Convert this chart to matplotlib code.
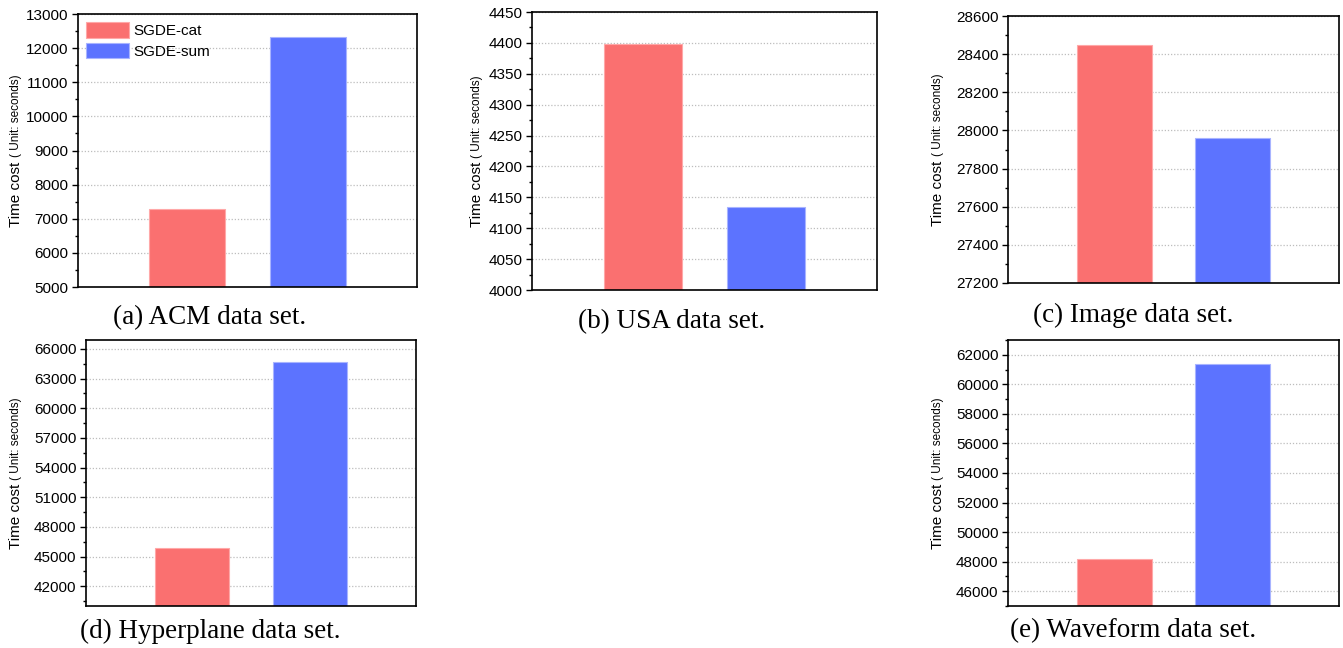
import matplotlib
matplotlib.use("Agg")
import matplotlib.pyplot as plt
from matplotlib.ticker import MultipleLocator

# data
methods = ["SGDE-cat", "SGDE-sum"]
acm = [7290, 12320]
usa = [4398, 4135]
image = [28448, 27960]
hyperplane = [45850, 64720]
waveform = [48160, 61400]

captions = ["(a) ACM data set.", "(b) USA data set.", "(c) Image data set.",
            "(d) Hyperplane data set.", "(e) Waveform data set."]

W, H = 1343, 648
RED = "#FA7070"
BLUE = "#5C73FF"
RED_EDGE = "#FFA8A8"
BLUE_EDGE = "#A8B4FF"

plt.rcParams['font.family'] = ['Liberation Sans', 'DejaVu Sans']

fig = plt.figure(figsize=(W / 100, H / 100), dpi=100)


def px_rect(l, t, r, b):
    return [l / W, 1 - b / H, (r - l) / W, (b - t) / H]


def draw_panel(rect, values, ylim, major, minor, label_x, caption, cap_xy, legend=False):
    ax = fig.add_axes(px_rect(*rect))
    x = [1, 2]
    ax.bar(x[0], values[0], width=0.63, color=RED, edgecolor=RED_EDGE, linewidth=0.8,
           label=methods[0], bottom=0)
    ax.bar(x[1], values[1], width=0.63, color=BLUE, edgecolor=BLUE_EDGE, linewidth=0.8,
           label=methods[1], bottom=0)
    ax.set_xlim(0.1, 2.9)
    ax.set_ylim(*ylim)
    ax.yaxis.set_major_locator(MultipleLocator(major))
    ax.yaxis.set_minor_locator(MultipleLocator(minor))
    ax.set_xticks([])
    ax.tick_params(axis='y', which='major', direction='out', length=4.3, width=1,
                   labelsize=11, pad=2.5)
    ax.tick_params(axis='y', which='minor', direction='out', length=2.3, width=1)
    ax.set_axisbelow(True)
    ax.yaxis.grid(True, linestyle=(0, (1, 1.5)), color='#BDBDBD', linewidth=0.9)
    for s in ax.spines.values():
        s.set_linewidth(1.2)
        s.set_color('black')
    if legend:
        ax.legend(loc='upper left', frameon=False, fontsize=11, handlelength=2.8,
                  handleheight=1.18, labelspacing=0.3, handletextpad=0.3,
                  borderpad=0, borderaxespad=0.55)

    # y label: big "Time cost" + small "( Unit: seconds)"
    ycen = 1 - (rect[1] + rect[3]) / 2 / H
    t1 = fig.text(label_x / W, 0, "Time cost ", rotation=90, fontsize=11,
                  ha='left', va='center', rotation_mode='anchor')
    t2 = fig.text(label_x / W, 0, "( Unit: seconds)", rotation=90, fontsize=8.5,
                  ha='left', va='center', rotation_mode='anchor')
    fig.canvas.draw()
    r = fig.canvas.get_renderer()
    h1 = t1.get_window_extent(r).height
    h2 = t2.get_window_extent(r).height
    start = ycen * H - (h1 + h2) / 2
    t1.set_y(start / H)
    t2.set_y((start + h1) / H)

    fig.text(cap_xy[0] / W, 1 - cap_xy[1] / H, caption, ha='center', va='center',
             fontsize=19.5, family=['Liberation Serif', 'DejaVu Serif'])
    return ax


draw_panel((78, 14, 417, 287), acm, (5000, 13000), 1000, 500, 16, captions[0], (210, 318),
           legend=True)
draw_panel((532, 12, 877, 290), usa, (4000, 4450), 50, 25, 477, captions[1], (672, 322))
draw_panel((1008, 16, 1339, 283), image, (27200, 28600), 200, 100, 938, captions[2], (1133, 315))
draw_panel((86, 340, 416, 606), hyperplane, (40000, 66900), 3000, 1500, 16, captions[3], (210, 631))
draw_panel((1008, 340, 1339, 606), waveform, (45000, 63000), 2000, 1000, 938, captions[4], (1133, 631))

fig.savefig("out.png", dpi=100)
